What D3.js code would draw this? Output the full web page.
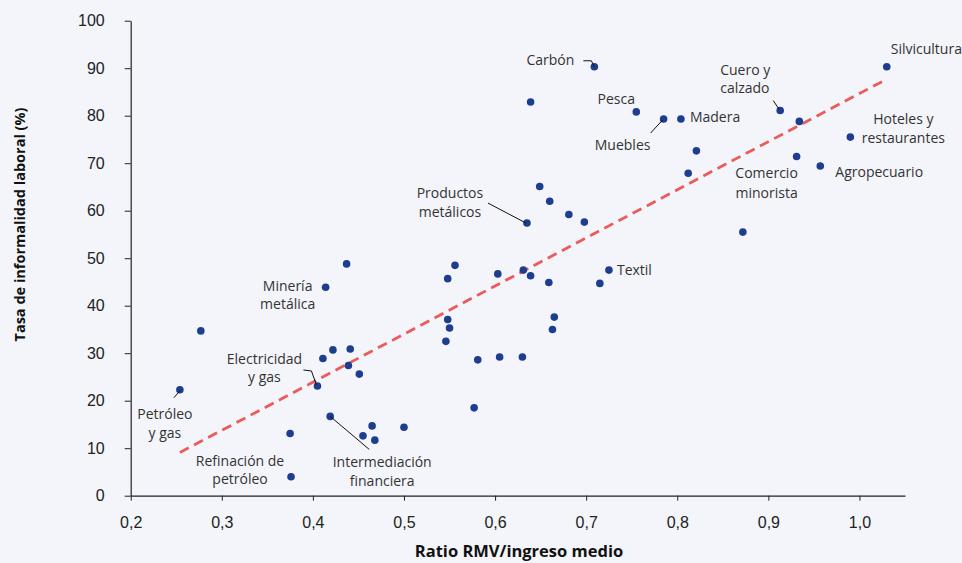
<!DOCTYPE html>
<html>
<head>
<meta charset="utf-8">
<script src="https://cdn.jsdelivr.net/npm/d3@7"></script>
<style>
  html, body { margin: 0; padding: 0; background: #f3f5fa; }
  svg { display: block; font-family: "Open Sans", sans-serif; }
  .tick text { font-size: 16px; fill: #222; }
  .tick line, .domain { stroke: #222; }
  .note { font-size: 14px; fill: #333; }
  .title { font-weight: bold; fill: #111; }
</style>
</head>
<body>
<svg id="chart" width="962" height="563"></svg>
<script>
// ratio RMV / ingreso medio and informality rate (%) by sector
const sectorX = [0.709, 0.639, 0.755, 0.785, 0.804, 0.649, 0.660, 0.681, 0.698, 0.635,
  0.913, 0.934, 1.030, 0.821, 0.812, 0.931, 0.957, 0.990, 0.872,
  0.254, 0.277, 0.414, 0.437, 0.422, 0.441, 0.411, 0.439, 0.451, 0.405,
  0.419, 0.465, 0.455, 0.468, 0.375, 0.376,
  0.556, 0.548, 0.603, 0.631, 0.639, 0.659, 0.715, 0.725, 0.548, 0.550,
  0.546, 0.665, 0.663, 0.581, 0.605, 0.630, 0.577, 0.500];
const sectorY = [90.3, 82.9, 80.8, 79.3, 79.3, 65.1, 62.0, 59.2, 57.6, 57.4,
  81.1, 78.8, 90.3, 72.6, 67.9, 71.4, 69.4, 75.5, 55.5,
  22.3, 34.7, 43.9, 48.8, 30.7, 30.9, 28.9, 27.4, 25.6, 23.1,
  16.7, 14.7, 12.6, 11.7, 13.1, 4.0,
  48.5, 45.7, 46.7, 47.5, 46.3, 44.9, 44.7, 47.5, 37.1, 35.3,
  32.5, 37.6, 35.0, 28.6, 29.2, 29.2, 18.5, 14.4];
const sectorName = ["Carbón", "", "Pesca", "Muebles", "Madera", "", "", "", "", "Productos metálicos",
  "Cuero y calzado", "", "Silvicultura", "", "", "Comercio minorista", "Agropecuario", "Hoteles y restaurantes", "",
  "Petróleo y gas", "", "Minería metálica", "", "", "", "", "", "", "Electricidad y gas",
  "Intermediación financiera", "", "", "", "", "Refinación de petróleo",
  "", "", "", "", "", "", "", "Textil", "", "",
  "", "", "", "", "", "", "", ""];

// fitted line end points
const trendX = [0.254, 1.030];
const trendY = [9.1, 87.7];

const xTicks = [0.2, 0.3, 0.4, 0.5, 0.6, 0.7, 0.8, 0.9, 1.0];
const yTicks = [0, 10, 20, 30, 40, 50, 60, 70, 80, 90, 100];

// label placement relative to each point (pixels)
const notes = {
  "Carbón": { lines: ["Carbón"], dx: -20, dy: [-7], anchor: "end", leader: [[-11, -6], [-3, -6], [0, 0]] },
  "Pesca": { lines: ["Pesca"], dx: -20, dy: [-13], anchor: "middle" },
  "Muebles": { lines: ["Muebles"], dx: -41, dy: [25], anchor: "middle", leader: [[-13, 14], [-1, 1]] },
  "Madera": { lines: ["Madera"], dx: 9, dy: [-3], anchor: "start" },
  "Cuero y calzado": { lines: ["Cuero y", "calzado"], dx: -60, dy: [-41, -23], anchor: "start", leader: [[-7, -10], [-1, -1]] },
  "Silvicultura": { lines: ["Silvicultura"], dx: 4, dy: [-18], anchor: "start" },
  "Hoteles y restaurantes": { lines: ["Hoteles y", "restaurantes"], dx: 53, dy: [-19, 0], anchor: "middle" },
  "Agropecuario": { lines: ["Agropecuario"], dx: 15, dy: [5], anchor: "start" },
  "Comercio minorista": { lines: ["Comercio", "minorista"], dx: -30, dy: [16, 36], anchor: "middle" },
  "Productos metálicos": { lines: ["Productos", "metálicos"], dx: -77, dy: [-31, -12], anchor: "middle", leader: [[-39, -20], [-1, 0]] },
  "Textil": { lines: ["Textil"], dx: 8, dy: [-1], anchor: "start" },
  "Minería metálica": { lines: ["Minería", "metálica"], dx: -38, dy: [-2, 16], anchor: "middle" },
  "Electricidad y gas": { lines: ["Electricidad", "y gas"], dx: -53, dy: [-27, -9], anchor: "middle", leader: [[-14, -16], [-6, -15], [-1, -1]] },
  "Petróleo y gas": { lines: ["Petróleo", "y gas"], dx: -15, dy: [24, 43], anchor: "middle", leader: [[-6, 8], [0, 1]] },
  "Refinación de petróleo": { lines: ["Refinación de", "petróleo"], dx: -51, dy: [-16, 2], anchor: "middle" },
  "Intermediación financiera": { lines: ["Intermediación", "financiera"], dx: 52, dy: [45, 64], anchor: "middle", leader: [[0, 0], [39, 33]] }
};

const data = sectorX.map((x, i) => ({ x: x, y: sectorY[i], name: sectorName[i] }));

const svg = d3.select("#chart");

const xScale = d3.scaleLinear().domain([0.2, 1.05]).range([130.7, 905]);
const yScale = d3.scaleLinear().domain([0, 100]).range([495.7, 20.7]);

const fmt = d => d3.format(".1f")(d).replace(".", ",");

svg.append("g")
  .attr("transform", `translate(0, ${yScale(0)})`)
  .call(d3.axisBottom(xScale).tickValues(xTicks).tickFormat(fmt).tickSize(5).tickSizeOuter(0).tickPadding(16));

svg.append("g")
  .attr("transform", `translate(${xScale(0.2)}, 0)`)
  .call(d3.axisLeft(yScale).tickValues(yTicks).tickSize(6).tickSizeOuter(0).tickPadding(20));

svg.selectAll(".domain").attr("stroke-width", 1.2);

// dashed fitted line
svg.append("line")
  .attr("x1", xScale(trendX[0])).attr("y1", yScale(trendY[0]))
  .attr("x2", xScale(trendX[1])).attr("y2", yScale(trendY[1]))
  .attr("stroke", "#ec5b5b")
  .attr("stroke-width", 2.8)
  .attr("stroke-dasharray", "10,6");

// points
svg.selectAll(".dot")
  .data(data)
  .join("circle")
  .attr("class", "dot")
  .attr("cx", d => xScale(d.x))
  .attr("cy", d => yScale(d.y))
  .attr("r", 3.8)
  .attr("fill", "#1d3e8f");

// labels and leader lines
const labeled = data.filter(d => d.name && notes[d.name]);

labeled.forEach(d => {
  const n = notes[d.name];
  const px = xScale(d.x), py = yScale(d.y);
  if (n.leader) {
    svg.append("path")
      .attr("d", d3.line()(n.leader.map(p => [px + p[0], py + p[1]])))
      .attr("fill", "none")
      .attr("stroke", "#111")
      .attr("stroke-width", 1);
  }
  n.lines.forEach((t, j) => {
    svg.append("text")
      .attr("class", "note")
      .attr("x", px + n.dx)
      .attr("y", py + n.dy[j])
      .attr("dominant-baseline", "central")
      .attr("text-anchor", n.anchor)
      .text(t);
  });
});

svg.append("text")
  .attr("class", "title")
  .attr("x", 519)
  .attr("y", 557)
  .attr("text-anchor", "middle")
  .style("font-size", "16.5px")
  .text("Ratio RMV/ingreso medio");

svg.append("text")
  .attr("class", "title")
  .attr("transform", "translate(19, 224.5) rotate(-90)")
  .attr("dominant-baseline", "central")
  .attr("text-anchor", "middle")
  .style("font-size", "14.5px")
  .text("Tasa de informalidad laboral (%)");
</script>
</body>
</html>
